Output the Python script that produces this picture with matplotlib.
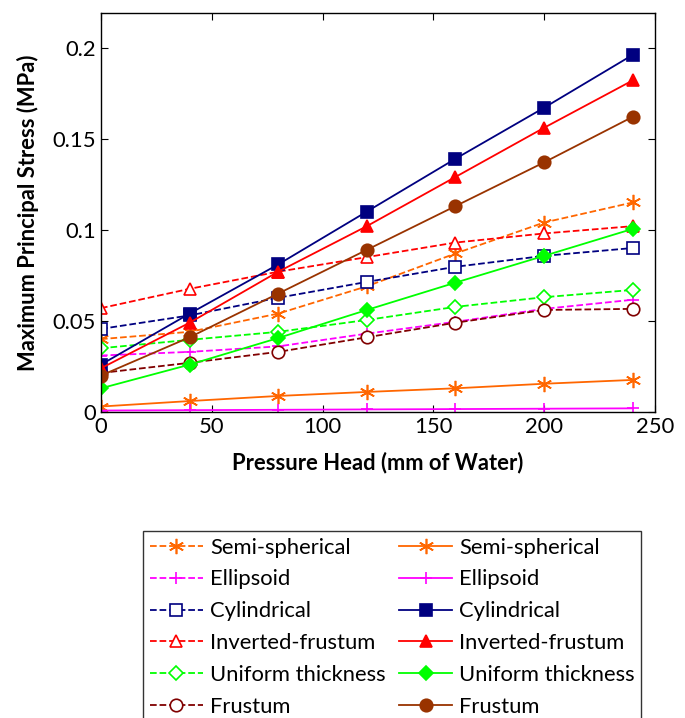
import matplotlib
matplotlib.use('Agg')
import matplotlib.pyplot as plt

plt.rcParams['font.family'] = ['Lato', 'DejaVu Sans']

# pressure head (mm of water)
head = [0, 40, 80, 120, 160, 200, 240]

# dashed series (open markers)
semi_d = [0.040, 0.044, 0.054, 0.069, 0.087, 0.104, 0.115]
ellip_d = [0.031, 0.033, 0.036, 0.043, 0.0495, 0.0566, 0.0616]
cyl_d = [0.0456, 0.053, 0.0627, 0.0714, 0.0797, 0.0857, 0.090]
inv_d = [0.057, 0.0676, 0.077, 0.085, 0.093, 0.098, 0.102]
unif_d = [0.035, 0.0396, 0.044, 0.0505, 0.0577, 0.063, 0.067]
frus_d = [0.0214, 0.027, 0.033, 0.041, 0.049, 0.056, 0.0566]

# solid series (filled markers)
semi_s = [0.003, 0.006, 0.0088, 0.011, 0.013, 0.0155, 0.0176]
ellip_s = [0.0008, 0.001, 0.0012, 0.0014, 0.0016, 0.0018, 0.002]
cyl_s = [0.026, 0.054, 0.081, 0.110, 0.139, 0.167, 0.196]
inv_s = [0.024, 0.049, 0.077, 0.102, 0.129, 0.156, 0.182]
unif_s = [0.013, 0.026, 0.0406, 0.056, 0.071, 0.0857, 0.1005]
frus_s = [0.020, 0.041, 0.065, 0.089, 0.113, 0.137, 0.162]

names = ['Semi-spherical', 'Ellipsoid', 'Cylindrical', 'Inverted-frustum',
         'Uniform thickness', 'Frustum']
dashed = [semi_d, ellip_d, cyl_d, inv_d, unif_d, frus_d]
solid = [semi_s, ellip_s, cyl_s, inv_s, unif_s, frus_s]

dash_colors = ['#FF6600', '#FF00FF', '#000080', '#FF0000', '#00FF00', '#800000']
solid_colors = ['#FF6600', '#FF00FF', '#000080', '#FF0000', '#00FF00', '#993300']
markers = [(6, 2, 0), '+', 's', '^', 'D', 'o']
msizes = [11, 9, 9, 9, 7, 9]

fig = plt.figure(figsize=(6.85, 7.18), dpi=100)
ax = fig.add_axes([0.1474, 0.4262, 0.8086, 0.5557])

for vals, c, m, ms, n in zip(dashed, dash_colors, markers, msizes, names):
    ax.plot(head, vals, '--', color=c, marker=m, ms=ms, mfc='white' if m not in ['+', (6, 2, 0)] else c,
            mec=c, mew=1.2, lw=1.3, label=n)
for vals, c, m, ms, n in zip(solid, solid_colors, markers, msizes, names):
    ax.plot(head, vals, '-', color=c, marker=m, ms=ms, mfc=c, mec=c,
            mew=1.2, lw=1.3, label=n)

ax.set_xlim(0, 250)
ax.set_ylim(0, 0.219)
ax.set_xticks([0, 50, 100, 150, 200, 250])
ax.set_yticks([0, 0.05, 0.1, 0.15, 0.2])
ax.set_yticklabels(['0', '0.05', '0.1', '0.15', '0.2'])
ax.tick_params(direction='in', top=True, right=True, labelsize=15.8, length=5)
for s in ax.spines.values():
    s.set_linewidth(1.0)
ax.set_xlabel('Pressure Head (mm of Water)', fontsize=15.8, fontweight='bold', labelpad=11)
ax.set_ylabel('Maximum Principal Stress (MPa)', fontsize=15.8, fontweight='bold', labelpad=10)

leg = fig.legend(ncol=2, loc='upper left', bbox_to_anchor=(143 / 685, 1 - 531 / 718),
                 fontsize=15.8, frameon=True, fancybox=False, edgecolor='black',
                 handlelength=2.45, handletextpad=0.3, columnspacing=0.6,
                 labelspacing=0.54, borderpad=0.3, borderaxespad=0)
leg.get_frame().set_linewidth(1.0)

fig.savefig('out.png', dpi=100)
